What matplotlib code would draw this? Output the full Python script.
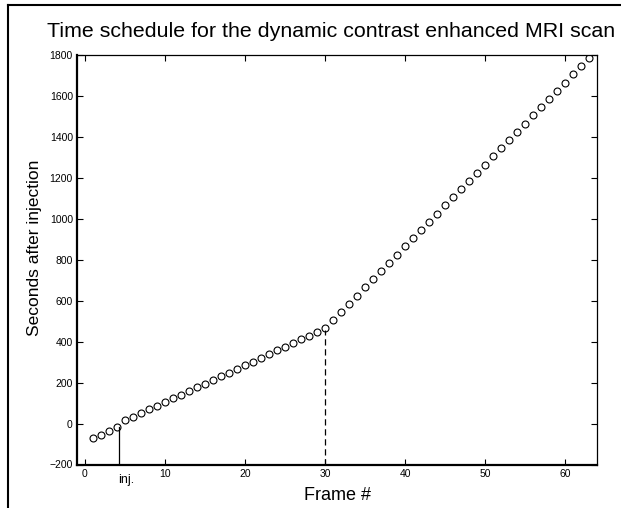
import matplotlib
matplotlib.use("Agg")
import matplotlib.pyplot as plt
from matplotlib.lines import Line2D

plt.rcParams['font.family'] = ['Liberation Sans', 'DejaVu Sans']

# acquisition time of each frame, seconds relative to contrast injection
frames = list(range(1, 64))
seconds = [-73, -55, -36, -17,
           15, 33, 51, 69, 87, 105, 123, 141, 159, 177, 195, 213, 231,
           249, 267, 285, 303, 321, 339, 357, 375, 393, 411, 429, 447, 465,
           505, 545, 585, 625, 665, 705, 745, 785, 825, 865, 905, 945,
           985, 1025, 1065, 1105, 1145, 1185, 1225, 1265, 1305, 1345,
           1385, 1425, 1465, 1505, 1545, 1585, 1625, 1665, 1705, 1745, 1785]
inj_frame = 4.3
inj_top = -15
switch_frame = 30
switch_top = 458

fig = plt.figure(figsize=(6.21, 5.08), dpi=100)
ax = fig.add_axes([77/621, 1 - 464.5/508, 520/621, 409.5/508])

ax.plot(frames, seconds, 'o', mfc='none', mec='black', ms=5, mew=0.8)
ax.plot([inj_frame, inj_frame], [-200, inj_top], color='black', lw=0.9)
ax.plot([switch_frame, switch_frame], [-200, switch_top], color='black',
        lw=0.9, dashes=(5, 3))

ax.set_xlim(-1, 64)
ax.set_ylim(-200, 1800)
ax.set_xticks([0, 10, 20, 30, 40, 50, 60])
ax.set_yticks(range(-200, 1801, 200))
ax.tick_params(direction='in', length=4, width=0.8, labelsize=7.5,
               top=True, right=True, pad=3)
for s in ['left', 'bottom']:
    ax.spines[s].set_linewidth(1.6)
for s in ['top', 'right']:
    ax.spines[s].set_linewidth(0.9)

ax.text(5.1, -0.038, 'inj.', transform=ax.get_xaxis_transform(),
        ha='center', va='center', fontsize=9)

ax.set_title('Time schedule for the dynamic contrast enhanced MRI scan',
             fontsize=15.4, x=0.488, pad=13)
ax.set_xlabel('Frame #', fontsize=13)
ax.xaxis.set_label_coords(0.5, -0.055)
ax.set_ylabel('Seconds after injection', fontsize=12.5)
ax.yaxis.set_label_coords(-0.068, 0.53)

# frame around the figure (only top and left edge visible)
fig.add_artist(Line2D([8/621, 1], [1 - 5/508, 1 - 5/508], color='black',
                      lw=1.5, transform=fig.transFigure))
fig.add_artist(Line2D([8/621, 8/621], [0, 1 - 5/508], color='black',
                      lw=1.5, transform=fig.transFigure))

fig.savefig('out.png', dpi=100)
